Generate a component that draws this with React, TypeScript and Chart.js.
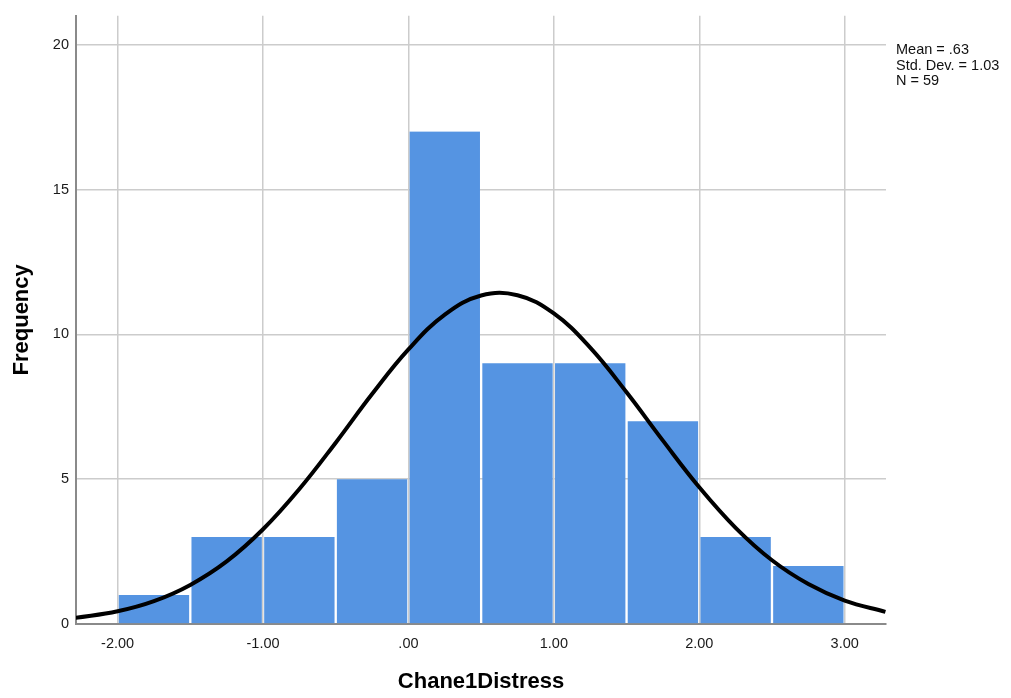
import React, { useEffect, useRef } from "react";
import { Chart, registerables } from "chart.js";

Chart.register(...registerables);

// Histogram bins (width 0.5) – centres and frequencies
const binCenters = [-1.75, -1.25, -0.75, -0.25, 0.25, 0.75, 1.25, 1.75, 2.25, 2.75];
const frequencies = [1, 3, 3, 5, 17, 9, 9, 7, 3, 2];

// Normal curve
const curveX = [-2.29, -2.0, -1.75, -1.5, -1.25, -1.0, -0.75, -0.5, -0.25, 0, 0.25, 0.5, 0.75, 1.0, 1.25, 1.5, 1.75, 2.0, 2.25, 2.5, 2.75, 3.0, 3.28];
const curveY = [0.21, 0.44, 0.79, 1.35, 2.16, 3.27, 4.66, 6.26, 7.94, 9.48, 10.68, 11.34, 11.35, 10.72, 9.54, 8.0, 6.33, 4.72, 3.32, 2.2, 1.38, 0.81, 0.42];

const xTickValues = [-2, -1, 0, 1, 2, 3];
const yTickValues = [0, 5, 10, 15, 20];
const statsLines = ["Mean = .63", "Std. Dev. = 1.03", "N = 59"];
const xTitle = "Chane1Distress";
const yTitle = "Frequency";

const FONT = "'Liberation Sans', Arial, sans-serif";

function fmtX(v: number): string {
  let s = v.toFixed(2);
  if (s.startsWith("0.")) s = s.slice(1);
  if (s.startsWith("-0.")) s = "-" + s.slice(2);
  return s;
}

const textPlugin = {
  id: "spssText",
  afterDraw(chart: any) {
    const { ctx, chartArea } = chart;
    ctx.save();
    ctx.fillStyle = "#000";
    ctx.font = `bold 22px ${FONT}`;
    ctx.textAlign = "center";
    ctx.textBaseline = "middle";
    ctx.fillText(xTitle, (chartArea.left + chartArea.right) / 2, 682);
    ctx.save();
    ctx.translate(22, (chartArea.top + chartArea.bottom) / 2);
    ctx.rotate(-Math.PI / 2);
    ctx.fillText(yTitle, 0, 0);
    ctx.restore();
    ctx.font = `14.5px ${FONT}`;
    ctx.textAlign = "left";
    ctx.textBaseline = "alphabetic";
    ctx.fillStyle = "#111";
    statsLines.forEach((line, i) => {
      ctx.fillText(line, 896, 54 + i * 15.5);
    });
    ctx.restore();
  },
};

export default function App() {
  const ref = useRef<HTMLCanvasElement | null>(null);

  useEffect(() => {
    if (!ref.current) return;
    const chart = new Chart(ref.current, {
      type: "bar",
      data: {
        datasets: [
          {
            type: "line",
            data: curveX.map((x, i) => ({ x, y: curveY[i] })),
            borderColor: "#000",
            borderWidth: 4,
            pointRadius: 0,
            tension: 0.4,
            fill: false,
            order: 0,
          } as any,
          {
            type: "bar",
            data: binCenters.map((x, i) => ({ x, y: frequencies[i] })),
            backgroundColor: "#5594e2",
            borderColor: "rgba(255,255,255,0)",
            borderWidth: { left: 1.5, right: 1.5, top: 0, bottom: 0 },
            borderSkipped: false,
            barPercentage: 1,
            categoryPercentage: 1,
            grouped: false,
            order: 1,
          } as any,
        ],
      },
      options: {
        animation: false,
        responsive: false,
        events: [],
        layout: { padding: { top: 12, right: 125, bottom: 0, left: 0 } },
        plugins: {
          legend: { display: false },
          tooltip: { enabled: false },
        },
        scales: {
          x: {
            type: "linear",
            min: -2.286,
            max: 3.284,
            offset: false,
            afterBuildTicks: (scale: any) => {
              scale.ticks = xTickValues.map((v) => ({ value: v }));
            },
            afterFit: (scale: any) => {
              scale.height = 74;
            },
            grid: { color: "#cccccc", lineWidth: 1.5, drawTicks: false, offset: false },
            border: { color: "#8a8a8a", width: 2 },
            ticks: {
              padding: 11,
              color: "#1a1a1a",
              font: { family: FONT, size: 14.5 },
              maxRotation: 0,
              callback: (v: any) => fmtX(Number(v)),
            },
          },
          y: {
            type: "linear",
            min: 0,
            max: 21,
            afterBuildTicks: (scale: any) => {
              scale.ticks = yTickValues.map((v) => ({ value: v }));
            },
            afterFit: (scale: any) => {
              scale.width = 76;
            },
            grid: { color: "#cccccc", lineWidth: 1.5, drawTicks: false },
            border: { color: "#8a8a8a", width: 2 },
            ticks: {
              padding: 7,
              color: "#1a1a1a",
              font: { family: FONT, size: 14.5 },
              callback: (v: any) => String(v),
            },
          },
        },
      } as any,
      plugins: [textPlugin],
    });
    return () => chart.destroy();
  }, []);

  return (
    <div style={{ position: "absolute", left: 0, top: 0, width: 1011, height: 698, background: "#fff" }}>
      <canvas ref={ref} width={1011} height={698} style={{ display: "block" }} />
    </div>
  );
}
